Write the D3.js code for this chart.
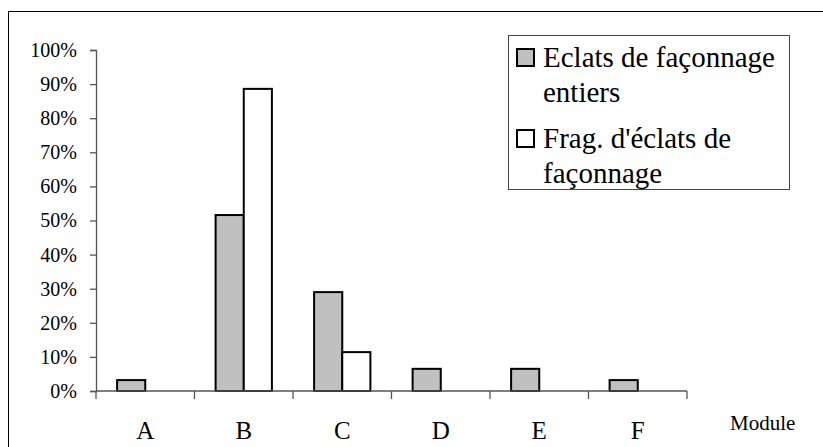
<!DOCTYPE html>
<html>
<head>
<meta charset="utf-8">
<script src="https://cdn.jsdelivr.net/npm/d3@7/dist/d3.min.js"></script>
<style>
  html, body { margin: 0; padding: 0; background: #fff; }
  svg { display: block; }
  svg text { font-family: "Liberation Serif", "Times New Roman", serif !important; fill: #000; }
</style>
</head>
<body>
<svg id="chart" width="823" height="447"></svg>
<script>
// ---- data ----
const categories = ["A", "B", "C", "D", "E", "F"];
const seriesNames = ["Eclats de façonnage entiers", "Frag. d'éclats de façonnage"];
const entiers = [0.032, 0.516, 0.290, 0.065, 0.065, 0.032];
const fragments = [0, 0.886, 0.114, 0, 0, 0];
const yTicks = [0, 0.1, 0.2, 0.3, 0.4, 0.5, 0.6, 0.7, 0.8, 0.9, 1.0];
const xAxisTitle = "Module";
const legendLines = [["Eclats de façonnage", "entiers"], ["Frag. d'éclats de", "façonnage"]];
const seriesColors = ["#c0c0c0", "#ffffff"];

const FONT = "'Liberation Serif', 'Times New Roman', serif";
const svg = d3.select("#chart");

// outer frame
svg.append("rect")
  .attr("x", 8.5).attr("y", 11.5)
  .attr("width", 830).attr("height", 450)
  .attr("fill", "none").attr("stroke", "#000").attr("stroke-width", 1);

const plot = { left: 96, right: 687, top: 50, bottom: 391 };

const x = d3.scaleBand().domain(categories).range([plot.left, plot.right]).paddingInner(0).paddingOuter(0);
const y = d3.scaleLinear().domain([0, 1]).range([plot.bottom, plot.top]);

const bw = x.bandwidth() / 3.5;

// y axis
const yAxis = d3.axisLeft(y).tickValues(yTicks).tickFormat(d3.format(".0%")).tickSize(6).tickPadding(13);
const gy = svg.append("g").attr("transform", `translate(${plot.left},0)`).call(yAxis)
  .attr("font-family", null);
gy.select(".domain").attr("stroke", "#555").attr("stroke-width", 1.3);
gy.selectAll(".tick line").attr("stroke", "#555").attr("stroke-width", 1.3);
gy.selectAll(".tick text").style("font-size", "20px").attr("fill", "#000")
  .style("font-family", FONT);

// bars
const series = [entiers, fragments];
series.forEach((vals, si) => {
  svg.append("g").selectAll("rect")
    .data(categories.map((c, i) => ({ c, v: vals[i] })).filter(d => d.v > 0))
    .join("rect")
    .attr("x", d => x(d.c) + 0.75 * bw + si * bw)
    .attr("y", d => y(d.v))
    .attr("width", bw)
    .attr("height", d => y(0) - y(d.v))
    .attr("fill", seriesColors[si])
    .attr("stroke", "#000")
    .attr("stroke-width", 2);
});

// x axis
const gx = svg.append("g").attr("transform", `translate(0,${plot.bottom})`);
gx.append("line").attr("x1", plot.left).attr("x2", plot.right).attr("y1", 0).attr("y2", 0)
  .attr("stroke", "#555").attr("stroke-width", 1.3);
const boundaries = categories.map(c => x(c)).concat([plot.right]);
gx.selectAll("line.tk").data(boundaries).join("line").attr("class", "tk")
  .attr("x1", d => d).attr("x2", d => d).attr("y1", 0).attr("y2", 8)
  .attr("stroke", "#555").attr("stroke-width", 1.3);
gx.selectAll("text").data(categories).join("text")
  .attr("x", d => x(d) + x.bandwidth() / 2)
  .attr("y", 48)
  .attr("text-anchor", "middle")
  .style("font-family", FONT)
  .style("font-size", "25px")
  .text(d => d);

svg.append("text").attr("x", 730).attr("y", 430)
  .style("font-family", FONT).style("font-size", "21px").text(xAxisTitle);

// legend
const lg = svg.append("g");
lg.append("rect").attr("x", 508.5).attr("y", 35.5).attr("width", 281).attr("height", 154)
  .attr("fill", "#fff").attr("stroke", "#444").attr("stroke-width", 1);
const itemTop = [49, 130];
legendLines.forEach((lines, i) => {
  lg.append("rect").attr("x", 517).attr("y", itemTop[i]).attr("width", 17).attr("height", 17)
    .attr("fill", seriesColors[i]).attr("stroke", "#000").attr("stroke-width", 2);
  lines.forEach((t, j) => {
    lg.append("text").attr("x", 543).attr("y", itemTop[i] + 18 + j * 35)
      .style("font-family", FONT)
      .style("font-size", "29px").text(t);
  });
});
</script>
</body>
</html>
